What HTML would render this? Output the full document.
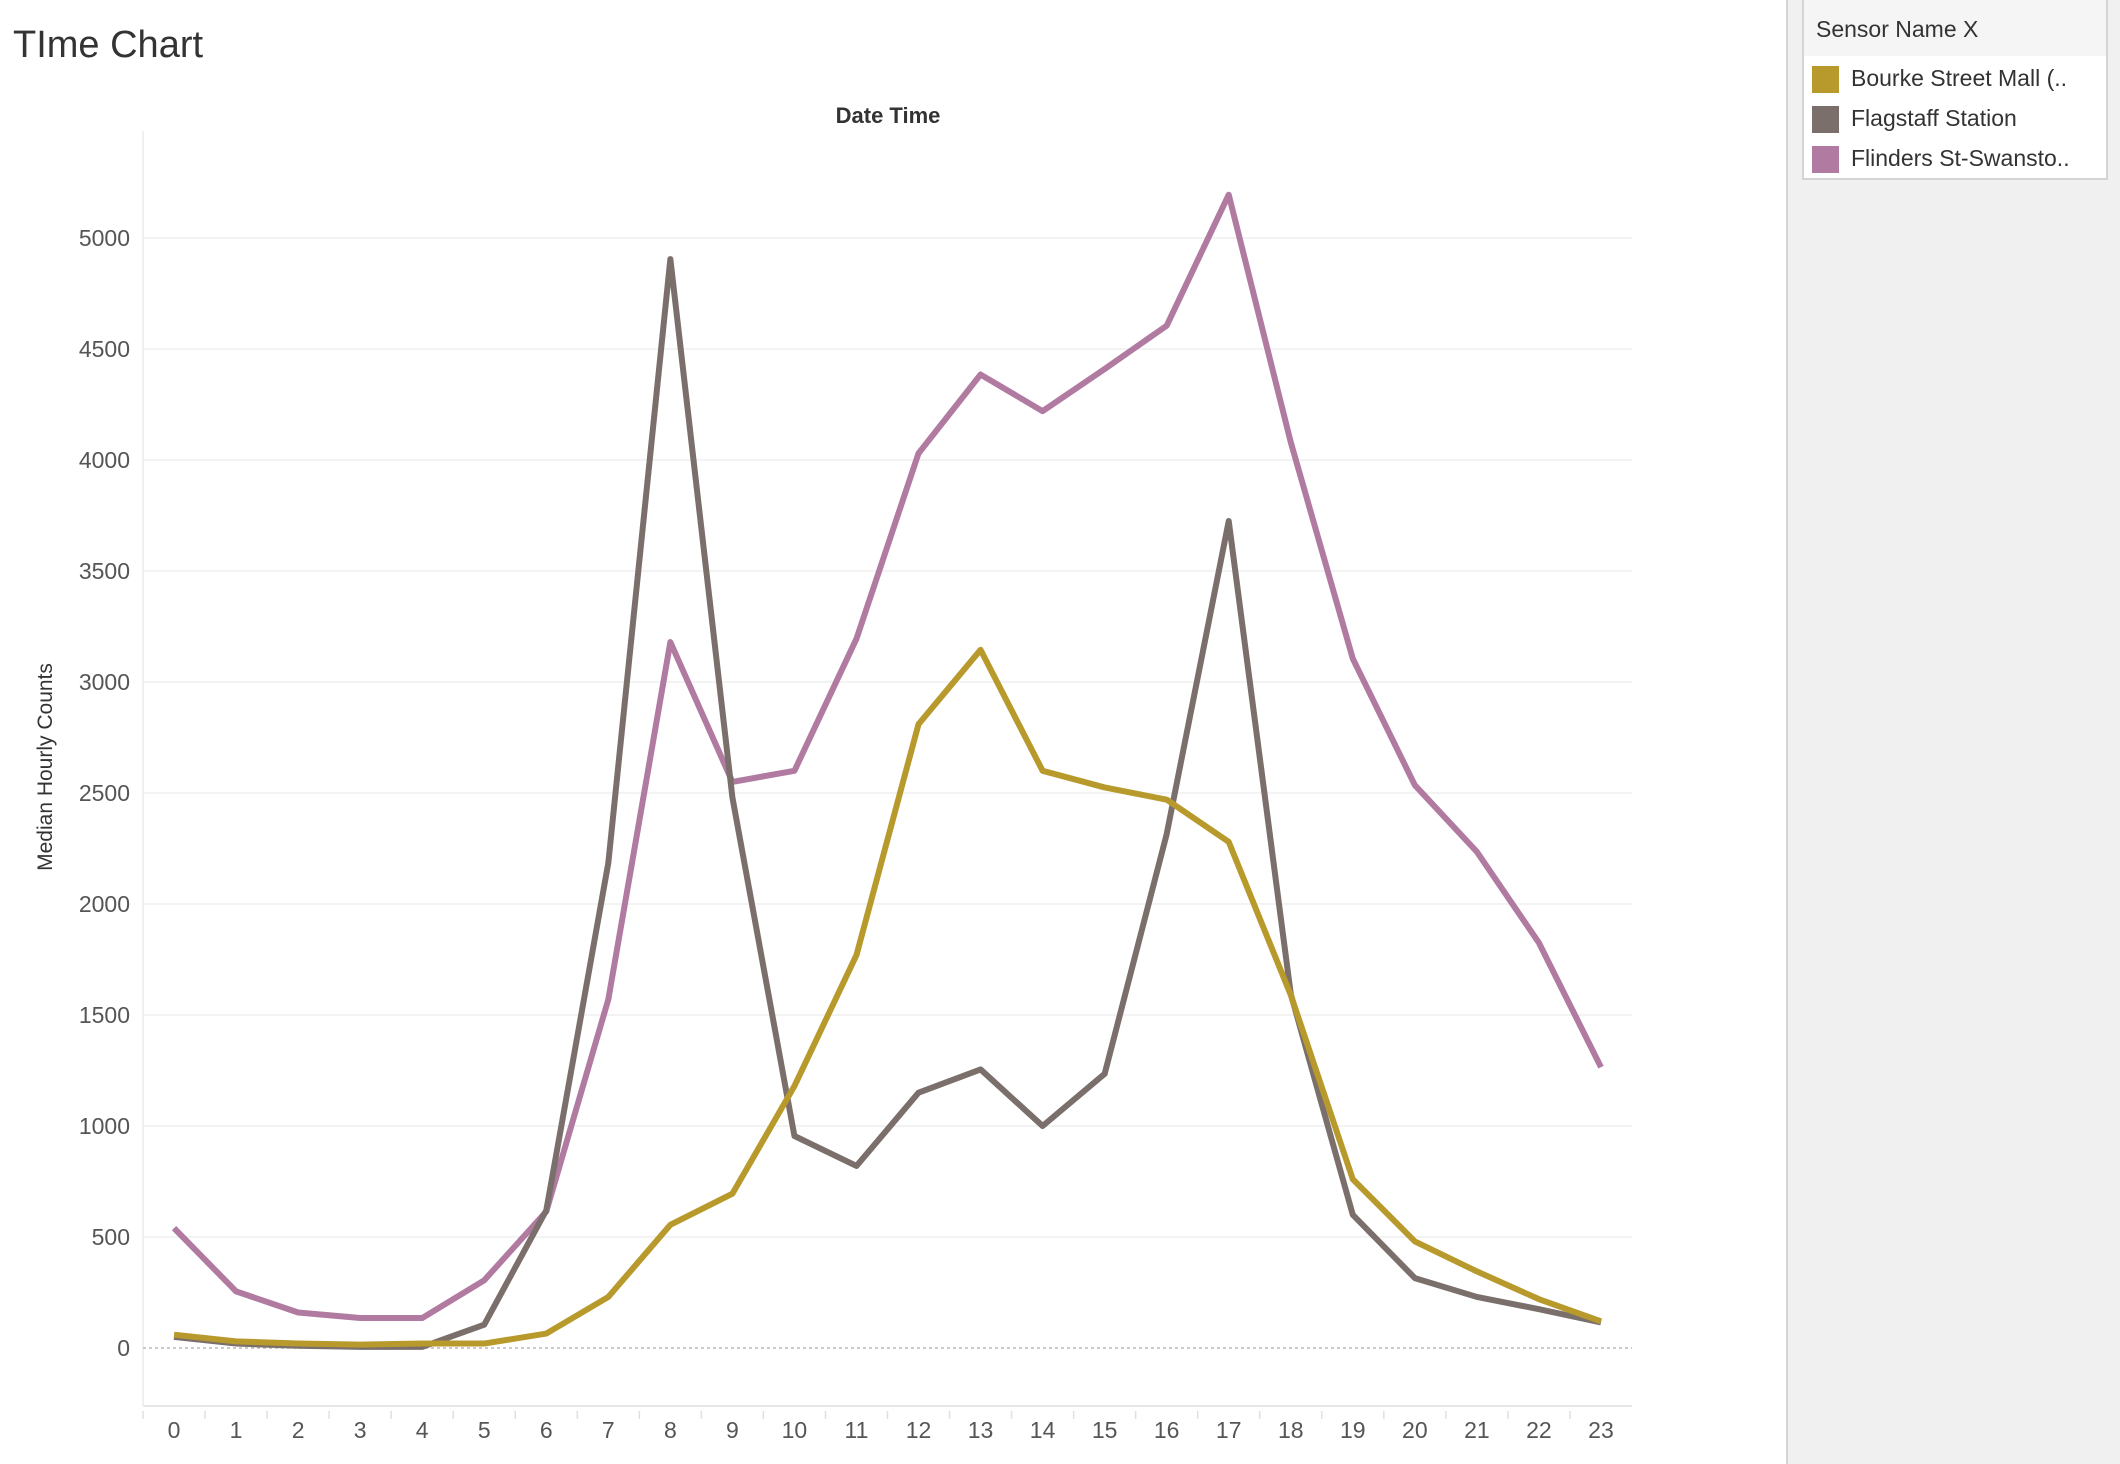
<!DOCTYPE html>
<html><head><meta charset="utf-8"><style>
body{margin:0;width:2120px;height:1464px;background:#fff;font-family:"Liberation Sans",sans-serif;overflow:hidden;position:relative}
#title{position:absolute;left:13px;top:24px;font-size:38px;color:#333}
#panel{position:absolute;left:1786px;top:0;width:334px;height:1464px;background:#f0f0f0;border-left:2px solid #d4d4d4}
#legend{position:absolute;left:1802px;top:0;width:302px;height:178px;background:#fff;border:2px solid #d4d4d4;border-top:none}
#lh{height:56px;background:#f5f5f5;font-size:23px;color:#333;padding-left:12px;line-height:58px}
.li{position:absolute;left:8px;font-size:23px;color:#333;height:28px;line-height:28px}
.sw{display:inline-block;width:27px;height:27px;vertical-align:middle;margin-right:12px}
</style></head><body>
<div id="title">TIme Chart</div>
<div id="panel"></div>
<div id="legend">
<div id="lh">Sensor Name X</div>
<div class="li" style="top:64px"><span class="sw" style="background:#b89a2c"></span>Bourke Street Mall (..</div>
<div class="li" style="top:104px"><span class="sw" style="background:#7b6f6c"></span>Flagstaff Station</div>
<div class="li" style="top:144px"><span class="sw" style="background:#b07aa1"></span>Flinders St-Swansto..</div>
</div>
<svg id="chart" width="1786" height="1464" style="position:absolute;left:0;top:0"></svg>
<script>
const categories=[0,1,2,3,4,5,6,7,8,9,10,11,12,13,14,15,16,17,18,19,20,21,22,23];
const bourke=[60,30,20,15,20,20,65,230,555,695,1180,1770,2810,3145,2600,2525,2470,2280,1590,760,480,345,220,120];
const flagstaff=[50,20,10,5,5,105,620,2185,4905,2480,955,820,1150,1255,1000,1235,2315,3725,1595,600,315,230,175,115];
const flinders=[540,255,160,135,135,305,615,1570,3180,2550,2600,3195,4030,4385,4220,4410,4605,5195,4080,3105,2535,2235,1825,1265];
const yTicks=[0,500,1000,1500,2000,2500,3000,3500,4000,4500,5000];
const NS="http://www.w3.org/2000/svg";
const svg=document.getElementById('chart');
const L=143,R=1632,T=131,B=1406;
const band=(R-L)/categories.length;
const x=i=>L+band*(i+0.5);
const y=v=>1348-v*(1348-238)/5000;
function mk(tag,attrs,parent){const e=document.createElementNS(NS,tag);for(const k in attrs)e.setAttribute(k,attrs[k]);(parent||svg).appendChild(e);return e;}
const ax=mk('line',{x1:L,x2:R,y1:B,y2:B,stroke:'#e6e6e6','stroke-width':2});


const ay=mk('line',{x1:L,x2:L,y1:T,y2:B,stroke:'#f0f0f0','stroke-width':2});


yTicks.forEach(v=>{
  if(v>0){const g=mk('line',{x1:L,x2:R,y1:y(v),y2:y(v),stroke:'#efefef','stroke-width':1.5});
  
  }
  const t=mk('text',{x:130,y:y(v)+8,'text-anchor':'end','font-size':23,fill:'#555','font-family':'Liberation Sans, sans-serif'});
  t.textContent=v;
  
  
});
const z=mk('line',{x1:L,x2:R,y1:y(0),y2:y(0),stroke:'#b8b8b8','stroke-width':1.5,'stroke-dasharray':'3,3'});


categories.forEach((c,i)=>{
  const tk=mk('line',{x1:L+band*i,x2:L+band*i,y1:B+5,y2:B+13,stroke:'#e0e0e0','stroke-width':1.5});
  
  
  const t=mk('text',{x:x(i),y:1438,'text-anchor':'middle','font-size':23,fill:'#555','font-family':'Liberation Sans, sans-serif'});
  t.textContent=c;
  
  
});
const xt=mk('text',{x:888,y:123,'text-anchor':'middle','font-size':22,'font-weight':'bold',fill:'#333','font-family':'Liberation Sans, sans-serif'});
xt.textContent='Date Time';


const yt=mk('text',{x:0,y:0,'text-anchor':'middle','font-size':21,fill:'#333',transform:'translate(52,767) rotate(-90)','font-family':'Liberation Sans, sans-serif'});
yt.textContent='Median Hourly Counts';


[[flinders,'#b07aa1','series-flinders'],[flagstaff,'#7b6f6c','series-flagstaff'],[bourke,'#b89a2c','series-bourke']].forEach(([d,c,n])=>{
  const p=mk('polyline',{points:d.map((v,i)=>x(i)+','+y(v)).join(' '),fill:'none',stroke:c,'stroke-width':6,'stroke-linejoin':'round'});
  
  
});
</script>
</body></html>
